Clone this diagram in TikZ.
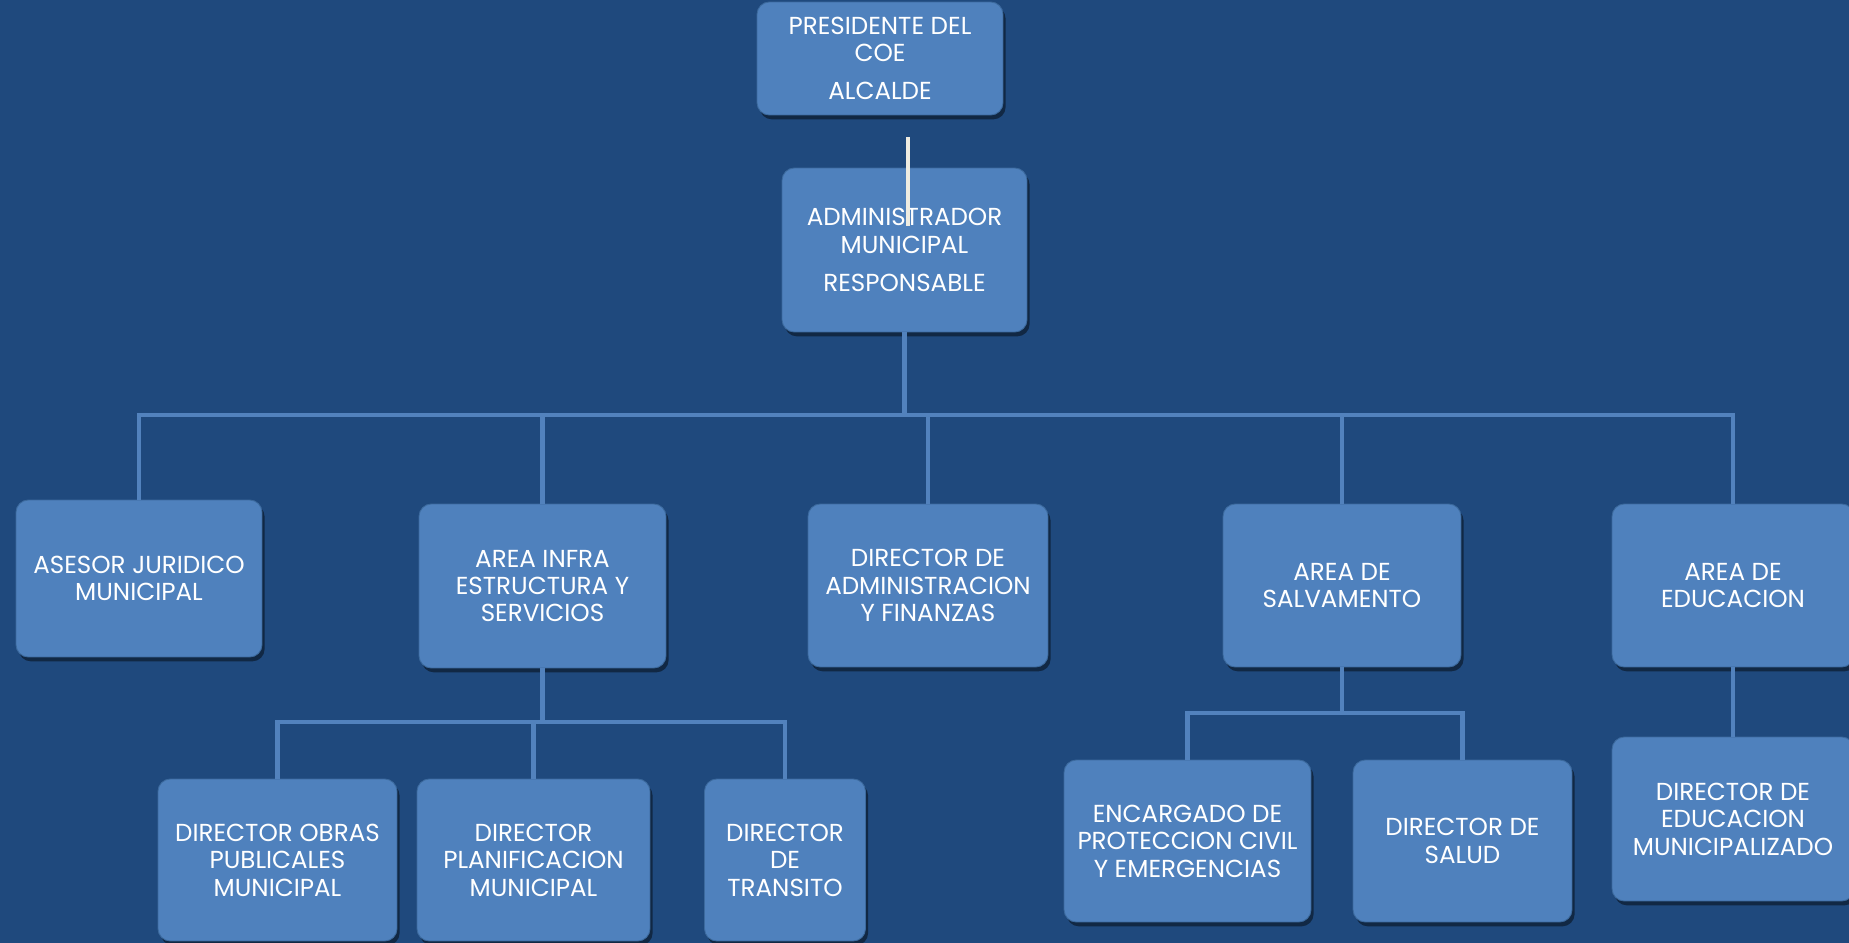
\documentclass[tikz,border=0pt]{standalone}
\usepackage{fontspec}
\setmainfont{Poppins}
\usetikzlibrary{positioning,shadows}

\definecolor{fondo}{HTML}{1F497D}
\definecolor{caja}{HTML}{4F81BD}
\definecolor{borde}{HTML}{3C6A9E}
\definecolor{linea}{HTML}{5282BD}
\definecolor{crema}{HTML}{EEECE1}

\tikzset{
    cargo/.style={align=center,fill=caja,draw=borde,line width=0.5pt,rounded corners=7pt,
        text=white,font=\fontsize{14}{15.6}\selectfont,inner sep=2pt,outer sep=0pt,
        drop shadow={shadow xshift=1.5pt,shadow yshift=-2.5pt,opacity=0.45,fill=black}},
    enlace/.style={draw=linea,line width=2.3pt},
    barra/.style={enlace,line cap=rect},
}

\begin{document}
\begin{tikzpicture}[x=0.02cm,y=-0.02cm]
    \fill[fondo] (0,0) rectangle (1849,943);
    \useasboundingbox (0,0) rectangle (1849,943);

    \draw
        node[cargo,minimum width=4.92cm,minimum height=2.26cm] (pres) at (880,58.5) {PRESIDENTE DEL\\COE\\[6pt]ALCALDE}
        node[cargo,minimum width=4.9cm,minimum height=3.28cm] (admin) at (904.5,250) {ADMINISTRADOR\\MUNICIPAL\\[6pt]RESPONSABLE}

        node[cargo,minimum width=4.92cm,minimum height=3.14cm] (asesor) at (139,578.5) {ASESOR JURIDICO\\MUNICIPAL}
        node[cargo,minimum width=4.94cm,minimum height=3.28cm] (infra) at (542.5,586) {AREA INFRA\\ESTRUCTURA Y\\SERVICIOS}
        node[cargo,minimum width=4.8cm,minimum height=3.26cm] (diradm) at (928,585.5) {DIRECTOR DE\\ADMINISTRACION\\Y FINANZAS}
        node[cargo,minimum width=4.76cm,minimum height=3.26cm] (salv) at (1342,585.5) {AREA DE\\SALVAMENTO}
        node[cargo,minimum width=4.84cm,minimum height=3.26cm] (educ) at (1733,585.5) {AREA DE\\EDUCACION}

        node[cargo,minimum width=4.78cm,minimum height=3.24cm] (obras) at (277.5,860) {DIRECTOR OBRAS\\PUBLICALES\\MUNICIPAL}
        node[cargo,minimum width=4.66cm,minimum height=3.24cm] (planif) at (533.5,860) {DIRECTOR\\PLANIFICACION\\MUNICIPAL}
        node[cargo,minimum width=3.22cm,minimum height=3.24cm] (transito) at (785,860) {DIRECTOR\\DE\\TRANSITO}

        node[cargo,minimum width=4.94cm,minimum height=3.24cm] (encarg) at (1187.5,841) {ENCARGADO DE\\PROTECCION CIVIL\\Y EMERGENCIAS}
        node[cargo,minimum width=4.38cm,minimum height=3.24cm] (salud) at (1462.5,841) {DIRECTOR DE\\SALUD}
        node[cargo,minimum width=4.84cm,minimum height=3.28cm] (direduc) at (1733,819) {DIRECTOR DE\\EDUCACION\\MUNICIPALIZADO}
    ;

    \coordinate (bus) at (0,415);
    \coordinate (businfra) at (0,722);
    \coordinate (bussalv) at (0,713);

    % conectores
    \draw[enlace] (admin.south) -- (admin.south |- bus);
    \draw[barra] (asesor.north |- bus) -- (educ.north |- bus);
    \foreach \n in {asesor,infra,diradm,salv,educ}
        \draw[enlace] (\n.north |- bus) -- (\n.north);
    \draw[enlace] (infra.south) -- (infra.south |- businfra);
    \draw[barra] (obras.north |- businfra) -- (transito.north |- businfra);
    \foreach \n in {obras,planif,transito}
        \draw[enlace] (\n.north |- businfra) -- (\n.north);
    \draw[enlace] (salv.south) -- (salv.south |- bussalv);
    \draw[barra] (encarg.north |- bussalv) -- (salud.north |- bussalv);
    \foreach \n in {encarg,salud}
        \draw[enlace] (\n.north |- bussalv) -- (\n.north);
    \draw[enlace] (educ.south) -- (direduc.north);

    % linea blanca sobre el administrador
    \coordinate (blancoA) at (908,137);
    \coordinate (blancoB) at (908,226);
    \draw[crema,line width=2.8pt] (blancoA) -- (blancoB);
\end{tikzpicture}
\end{document}
